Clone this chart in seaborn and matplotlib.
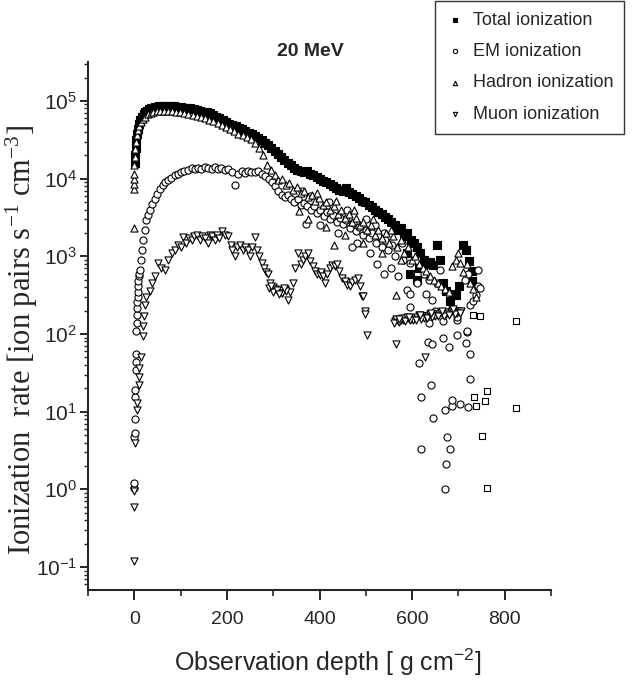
import matplotlib
matplotlib.use("Agg")
import matplotlib.pyplot as plt
from matplotlib import font_manager
from matplotlib.ticker import MultipleLocator, LogLocator, NullFormatter
import seaborn as sns

# -----------------------------
# Data
# -----------------------------
total_x = [1, 2, 3, 4, 6, 8, 10, 13, 16, 20,
           23, 27, 31, 35, 39, 44, 49, 54, 60, 66,
           72, 79, 86, 93, 100, 107, 114, 121, 128, 135,
           142, 149, 156, 163, 170, 177, 184, 191, 198, 205,
           212, 219, 226, 233, 240, 247, 254, 261, 268, 275,
           282, 289, 296, 303, 310, 317, 324, 331, 338, 345,
           352, 359, 366, 373, 380, 387, 394, 401, 408, 415,
           422, 429, 436, 443, 450, 457, 464, 471, 478, 485,
           492, 499, 506, 513, 520, 527, 534, 541, 548, 555,
           562, 569, 576, 583, 590, 597, 604, 611, 618, 625,
           632, 639, 646, 653, 660, 667, 674, 681, 688, 695,
           702, 709, 716, 723, 730, 730, 596, 611, 590, 615]
total_y = [16000, 20000, 25000, 31000, 38000, 44000, 50000, 56000, 62000, 68000,
           72000, 75000, 78000, 80000, 82000, 83000, 84000, 85000, 85000, 86000,
           85000, 86000, 85000, 84000, 83000, 82000, 81000, 80000, 78000, 77000,
           75000, 73000, 71000, 69000, 66000, 63000, 60000, 56000, 54000, 51000,
           49000, 47000, 45000, 43000, 41000, 39000, 37000, 35000, 33000, 31000,
           29000, 27000, 25000, 23000, 21000, 19000, 17500, 16000, 15000, 13500,
           13000, 12500, 12000, 12500, 11500, 11000, 10500, 9800, 9200, 9000,
           8600, 8000, 7600, 7200, 7000, 7600, 6800, 6300, 6000, 5600,
           5200, 5000, 4600, 4300, 4000, 3700, 3500, 3200, 3000, 2800,
           2500, 2200, 2300, 1800, 2000, 1600, 1500, 1300, 1100, 900,
           800, 850, 780, 1400, 900, 450, 360, 265, 330, 315,
           420, 1400, 1200, 870, 640, 480, 600, 500, 1100, 700]

# sparse total points at large depth (drawn hollow in the original)
deep_x = [732, 747, 825, 761, 734, 758, 738, 825, 752, 761]
deep_y = [173, 170, 148, 18.6, 15.5, 13.7, 12, 11, 4.8, 1.05]

em_x = [0, 0, 0, 1, 1, 2, 2, 3, 3, 4,
        4, 5, 5, 6, 6, 7, 7, 8, 9, 10,
        11, 12, 14, 17, 19, 23, 26, 30, 33, 38,
        44, 49, 55, 61, 67, 73, 80, 87, 94, 101,
        108, 116, 124, 131, 138, 145, 152, 160, 167, 174,
        181, 188, 196, 203, 210, 217, 224, 232, 239, 246,
        253, 260, 268, 275, 282, 290, 297, 304, 311, 318,
        325, 332, 339, 346, 353, 360, 367, 370, 374, 381,
        388, 395, 402, 409, 416, 423, 430, 437, 444, 451,
        458, 465, 472, 479, 486, 493, 500, 507, 514, 521,
        525, 528, 535, 540, 542, 549, 555, 556, 563, 570,
        578, 580, 590, 596, 596, 596, 611, 615, 619, 619,
        625, 630, 650, 635, 637, 637, 641, 643, 643, 645,
        654, 661, 667, 667, 672, 672, 673, 676, 680, 682,
        687, 687, 697, 697, 697, 704, 715, 717, 719, 719,
        721, 721, 726, 726, 726, 732, 738, 743, 743, 747,
        362, 380, 400, 420, 440, 460, 480, 500, 520, 540,
        470, 510]
em_y = [1.05, 1.2, 4.7, 5.3, 8, 15.5, 19, 34, 44, 56,
        110, 140, 173, 215, 260, 300, 350, 420, 480, 560,
        600, 660, 890, 1200, 1600, 2200, 2900, 3400, 4000, 4700,
        5400, 6400, 7400, 8200, 9000, 9600, 10300, 11000, 11500, 12000,
        12600, 13000, 13500, 13200, 13800, 13400, 14000, 13800, 13300, 14000,
        13200, 13600, 13000, 13300, 12000, 8300, 11500, 12400, 11800, 12600,
        12000, 12300, 12400, 11500, 10800, 10000, 9100, 8000, 7000, 6100,
        5800, 6200, 5400, 5000, 5500, 4600, 4800, 2600, 4400, 4000,
        4500, 3600, 3900, 3300, 3700, 3000, 3400, 2800, 3100, 2600,
        2900, 2300, 2700, 2100, 2400, 1900, 2200, 1700, 2000, 1500,
        800, 1800, 1300, 600, 1600, 1200, 700, 1400, 1000, 550,
        1500, 900, 365, 330, 810, 225, 450, 42, 15.5, 3.3,
        600, 330, 200, 79, 140, 500, 22, 74, 270, 8.3,
        450, 660, 89, 145, 10.5, 1.0, 2.1, 4.7, 67, 3.3,
        12, 14, 96, 152, 165, 12.6, 500, 76, 107, 110,
        11.5, 600, 55, 26, 235, 265, 315, 410, 660, 390,
        7000, 6000, 2500, 5000, 2000, 4000, 1500, 3000, 2500, 2000,
        1300, 1100]

hadron_x = [0, 0, 0, 0, 0, 0, 1, 2, 3,
            5, 8, 11, 15, 19, 24, 29, 35, 41, 48,
            56, 64, 72, 81, 90, 99, 108, 117, 126, 135,
            144, 153, 162, 171, 180, 189, 198, 207, 216, 225,
            234, 243, 252, 261, 270, 279, 287, 295, 303, 311,
            319, 327, 335, 343, 351, 359, 367, 375, 383, 391,
            399, 407, 415, 423, 431, 432, 439, 447, 455, 463,
            471, 479, 487, 495, 503, 511, 519, 527, 535, 543,
            551, 559, 565, 567, 575, 583, 591, 599, 607, 615,
            623, 631, 639, 647, 655, 663, 671, 679, 687, 695,
            700, 704, 711, 718, 725, 732, 739,
            355, 375, 395, 415, 435, 455, 475, 495, 515, 535,
            555, 575]
hadron_y = [2300, 7400, 8500, 10000, 11500, 15000, 19000, 24000, 30000,
            36000, 42000, 48000, 54000, 59000, 63000, 67000, 70000, 72000, 74000,
            75000, 75000, 74000, 74000, 73000, 71000, 70000, 68000, 66000, 64000,
            62000, 60000, 57000, 55000, 52000, 49000, 46000, 43000, 41000, 38000,
            36000, 34000, 32000, 29000, 25000, 20000, 15000, 13000, 11000, 9500,
            10000, 8200, 8800, 7200, 7800, 6500, 7000, 5800, 6200, 5200,
            5600, 4600, 5000, 4000, 4400, 1400, 3500, 3900, 3100, 3500,
            2800, 3100, 2500, 2800, 2200, 2500, 1900, 2200, 1700, 2000,
            1500, 1800, 315, 1300, 1600, 1100, 1300, 900, 1000, 800,
            700, 650, 550, 500, 450, 420, 380, 350, 750, 900,
            1100, 810, 630, 800, 450, 380, 300,
            3800, 3000, 6500, 2400, 5200, 1900, 4000, 1500, 3000, 1100,
            2200, 900]

muon_x = [0, 0, 0, 2, 5, 5, 10, 11, 11, 14,
          19, 19, 21, 23, 26, 33, 38, 44, 51, 58,
          66, 73, 81, 88, 94, 100, 105, 111, 118, 124,
          130, 135, 141, 147, 153, 159, 164, 168, 174, 179,
          184, 189, 195, 202, 208, 212, 217, 222, 228, 234,
          240, 245, 250, 255, 260, 265, 270, 276, 281, 285,
          289, 294, 299, 304, 310, 315, 320, 326, 332, 337,
          343, 348, 354, 359, 364, 369, 375, 380, 385, 390,
          395, 400, 404, 408, 412, 417, 422, 427, 433, 438,
          443, 449, 455, 460, 466, 471, 477, 483, 487, 492,
          494, 498, 498, 503, 565, 628, 563, 569, 575, 581,
          587, 593, 599, 605, 611, 617, 623, 629, 635, 641,
          647, 653, 659, 665, 671, 677, 683, 689, 695, 701,
          706, 566, 578, 590, 602, 614, 626, 638, 650, 662,
          674, 686, 698, 560, 572, 584, 596, 608, 620, 632,
          644, 656, 668, 680, 692, 704, 571, 593, 617, 641,
          665, 689, 290, 300, 308, 318, 328, 296, 312, 323]
muon_y = [0.12, 0.6, 0.95, 4.0, 10.4, 13, 22, 28, 37, 50,
          94, 126, 170, 234, 300, 360, 450, 550, 810, 700,
          660, 900, 1100, 1200, 1400, 1300, 1750, 1500, 1700, 1600,
          1800, 1900, 1600, 1800, 1700, 1500, 1900, 1800, 1600, 1900,
          1700, 2100, 1900, 1800, 1400, 1200, 1000, 1300, 1400, 1200,
          1300, 1200, 1000, 1300, 1750, 1200, 1000, 810, 700, 620,
          600, 450, 400, 380, 360, 370, 340, 380, 270, 350,
          450, 700, 1100, 800, 900, 1000, 1100, 870, 760, 650,
          600, 570, 620, 550, 450, 600, 700, 780, 760, 800,
          650, 530, 480, 430, 420, 470, 500, 520, 420, 310,
          310, 200, 183, 96, 74, 51, 145, 148, 150, 152,
          154, 156, 158, 160, 163, 165, 168, 170, 172, 175,
          178, 180, 183, 185, 188, 190, 192, 195, 197, 198,
          200, 155, 160, 165, 150, 175, 160, 182, 170, 192,
          180, 205, 188, 140, 143, 146, 150, 153, 156, 160,
          164, 168, 172, 176, 180, 185, 158, 166, 178, 188,
          197, 210, 390, 350, 370, 340, 360, 420, 330, 390]

x_ticks = [0, 200, 400, 600, 800]

# -----------------------------
# Style
# -----------------------------
sns.set_style("ticks")
names = {f.name for f in font_manager.fontManager.ttflist}
NARROW = "Liberation Sans Narrow" if "Liberation Sans Narrow" in names else "Liberation Sans"
plt.rcParams["font.family"] = [NARROW, "DejaVu Sans"]
plt.rcParams["mathtext.default"] = "regular"
plt.rcParams["axes.linewidth"] = 1.5

fig = plt.figure(figsize=(6.32, 6.89), dpi=100)
ax = fig.add_axes([88 / 632, 1 - 590 / 689, (551 - 88) / 632, (590 - 62) / 689])

mk = dict(linewidth=0.8, ax=ax)
sns.scatterplot(x=total_x, y=total_y, marker="s", color="black", s=34,
                edgecolor="black", label="Total ionization", zorder=2, **mk)
sns.scatterplot(x=deep_x, y=deep_y, marker="s", facecolor="white", s=24,
                edgecolor="black", zorder=2, **mk)
sns.scatterplot(x=em_x, y=em_y, marker="o", facecolor="white", s=26,
                edgecolor="black", label="EM ionization", zorder=3, **mk)
sns.scatterplot(x=hadron_x, y=hadron_y, marker="^", facecolor="white", s=26,
                edgecolor="black", label="Hadron ionization", zorder=4, **mk)
sns.scatterplot(x=muon_x, y=muon_y, marker="v", facecolor="white", s=26,
                edgecolor="black", label="Muon ionization", zorder=5, **mk)

ax.set_yscale("log")
ax.set_xlim(-100, 900)
ax.set_ylim(0.0506, 3.17e5)
ax.set_xticks(x_ticks)
ax.xaxis.set_minor_locator(MultipleLocator(100))
ax.yaxis.set_major_locator(LogLocator(base=10, numticks=12))
ax.yaxis.set_minor_locator(LogLocator(base=10, subs=range(2, 10), numticks=12))
ax.yaxis.set_minor_formatter(NullFormatter())
ax.tick_params(axis="x", which="major", direction="out", length=7, width=1.4, labelsize=14, pad=8)
ax.tick_params(axis="x", which="minor", direction="out", length=4, width=1.2)
ax.tick_params(axis="y", which="major", direction="out", length=6, width=1.4, labelsize=15, pad=2)
ax.tick_params(axis="y", which="minor", direction="out", length=3, width=1.0)
sns.despine(ax=ax)
ax.xaxis.label.set_visible(False)
ax.yaxis.label.set_visible(False)

fig.text(328 / 632, 1 - 662 / 689, "Observation depth [ g cm$^{-2}$]", fontsize=18,
         ha="center", va="center")
fig.text(22 / 632, 1 - 340 / 689, "Ionization  rate [ion pairs s$^{-1}$ cm$^{-3}$]",
         fontsize=22, family="Liberation Serif", rotation=90, ha="center", va="center")
fig.text(310 / 632, 1 - 51 / 689, "20 MeV", fontsize=14, fontweight="bold",
         ha="center", va="center")

leg = ax.legend(loc="upper left", bbox_to_anchor=(435 / 632, 0.999),
                bbox_transform=fig.transFigure, frameon=True, fancybox=False,
                edgecolor="black", fontsize=13, markerscale=0.6,
                handletextpad=0.5, labelspacing=0.8, handlelength=1.0,
                borderaxespad=0, borderpad=0.6)
leg.get_frame().set_linewidth(1.0)

fig.savefig("out.png", dpi=100)
